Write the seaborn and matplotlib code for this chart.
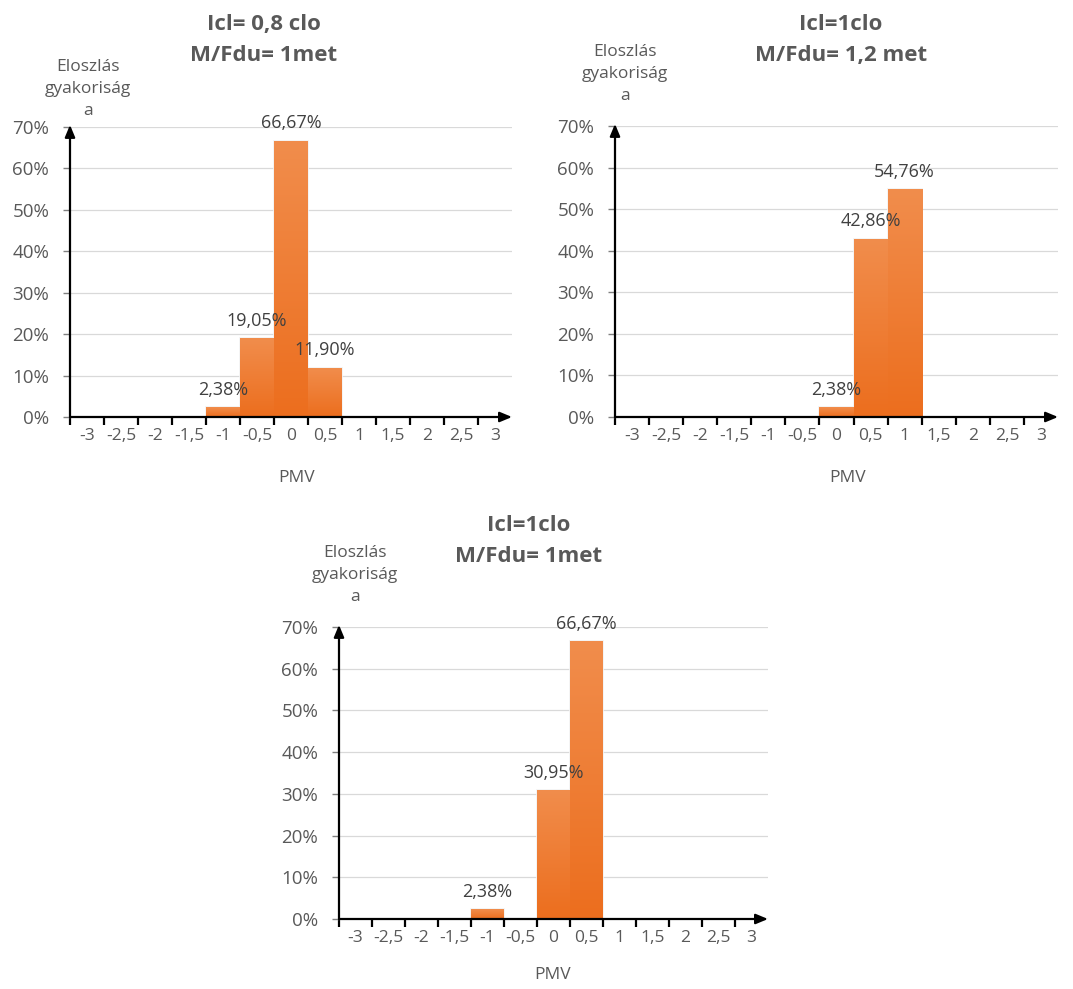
import numpy as np
import pandas as pd
import matplotlib
matplotlib.use("Agg")
import matplotlib.pyplot as plt
import seaborn as sns
from matplotlib.colors import LinearSegmentedColormap

sns.set_theme(style="white")
plt.rcParams['font.family'] = ['Open Sans', 'DejaVu Sans']

# PMV categories (x axis)
pmv_labels = ['-3', '-2,5', '-2', '-1,5', '-1', '-0,5', '0', '0,5', '1', '1,5', '2', '2,5', '3']

# frequency (fraction) per category for each chart
freq_1 = [0, 0, 0, 0, 0.0238, 0.1905, 0.6667, 0.1190, 0, 0, 0, 0, 0]
freq_2 = [0, 0, 0, 0, 0, 0, 0.0238, 0.4286, 0.5476, 0, 0, 0, 0]
freq_3 = [0, 0, 0, 0, 0.0238, 0, 0.3095, 0.6667, 0, 0, 0, 0, 0]

titles = ['Icl= 0,8 clo\nM/Fdu= 1met',
          'Icl=1clo\nM/Fdu= 1,2 met',
          'Icl=1clo\nM/Fdu= 1met']
ylab = 'Eloszlás\ngyakoriság\na'
y_ticks = [0, 0.1, 0.2, 0.3, 0.4, 0.5, 0.6, 0.7]
y_ticklabels = ['0%', '10%', '20%', '30%', '40%', '50%', '60%', '70%']

GRAY = '#595959'
bar_cmap = LinearSegmentedColormap.from_list('og', ['#EC6E1E', '#F18D4C'])

W, H = 1073, 989
fig = plt.figure(figsize=(W / 100, H / 100), dpi=100)


def px_axes(left, right, bottom, top):
    # pixel box -> figure fraction
    return fig.add_axes([left / W, 1 - bottom / H, (right - left) / W, (bottom - top) / H])


def draw(ax, freq, title, title_x, title_y, ylab_x, ylab_y, xlab_x, xlab_y):
    df = pd.DataFrame({'PMV': pmv_labels, 'freq': freq})
    sns.barplot(data=df, x='PMV', y='freq', order=pmv_labels, width=1.0,
                color='#EF8037', edgecolor='#F2F2F2', linewidth=1.2, ax=ax, zorder=3)
    ax.set_xlim(-0.5, 12.5)
    ax.set_ylim(0, 0.7)

    # gradient fill for each bar
    grad = np.linspace(0, 1, 100).reshape(-1, 1)
    for p in ax.patches:
        h = p.get_height()
        if h <= 0:
            continue
        x0 = p.get_x()
        im = ax.imshow(grad, extent=[x0, x0 + p.get_width(), 0, h], origin='lower',
                       aspect='auto', cmap=bar_cmap, zorder=3.5)
        im.set_clip_path(p)
        ax.annotate(f"{h * 100:.2f}%".replace('.', ','), (x0 + p.get_width() / 2, h),
                    xytext=(0, 6), textcoords='offset points', ha='center', va='bottom',
                    fontsize=13, color='#404040', zorder=6)
    ax.set_xlim(-0.5, 12.5)
    ax.set_ylim(0, 0.7)

    ax.set_yticks(y_ticks)
    ax.set_yticklabels(y_ticklabels)
    ax.yaxis.grid(True, color='#D9D9D9', linewidth=0.9, zorder=0)
    ax.set_axisbelow(True)
    ax.set_xticks(range(len(pmv_labels)))
    ax.set_xticklabels(pmv_labels)
    ax.set_xticks(np.arange(-0.5, 12.0, 1.0), minor=True)
    ax.tick_params(axis='x', which='major', bottom=True, length=0, pad=8,
                   labelsize=12.5, labelcolor=GRAY)
    ax.tick_params(axis='x', which='minor', bottom=True, length=6, width=1.6,
                   color='black', direction='out')
    ax.tick_params(axis='y', left=True, length=5, width=1, color='#808080', pad=10,
                   labelsize=13.5, labelcolor=GRAY)
    ax.set_xlabel('')
    ax.set_ylabel('')
    for s in ax.spines.values():
        s.set_visible(False)

    # axis arrows
    ax.annotate('', xy=(12.5, 0), xytext=(-0.5, 0), xycoords='data',
                arrowprops=dict(arrowstyle='-|>,head_length=0.6,head_width=0.25',
                                color='black', lw=1.6, shrinkA=0, shrinkB=0),
                zorder=7, annotation_clip=False)
    ax.annotate('', xy=(-0.5, 0.705), xytext=(-0.5, 0), xycoords='data',
                arrowprops=dict(arrowstyle='-|>,head_length=0.6,head_width=0.25',
                                color='black', lw=1.6, shrinkA=0, shrinkB=0),
                zorder=7, annotation_clip=False)

    fig.text(title_x / W, 1 - title_y / H, title, ha='center', va='center',
             fontsize=16, fontweight='bold', color=GRAY, linespacing=1.6)
    fig.text(ylab_x / W, 1 - ylab_y / H, ylab, ha='center', va='center',
             fontsize=12.5, color=GRAY, linespacing=1.5)
    fig.text(xlab_x / W, 1 - xlab_y / H, 'PMV', ha='center', va='center',
             fontsize=12.5, color=GRAY)


ax1 = px_axes(70, 512, 417, 127)
draw(ax1, freq_1, titles[0], 264, 40, 88, 89, 297, 478)

ax2 = px_axes(615, 1058, 417, 126)
draw(ax2, freq_2, titles[1], 841, 40, 625, 74, 848, 478)

ax3 = px_axes(339, 768, 919, 627)
draw(ax3, freq_3, titles[2], 529, 541, 355, 575, 553, 975)

fig.savefig('out.png', dpi=100, facecolor='white')
